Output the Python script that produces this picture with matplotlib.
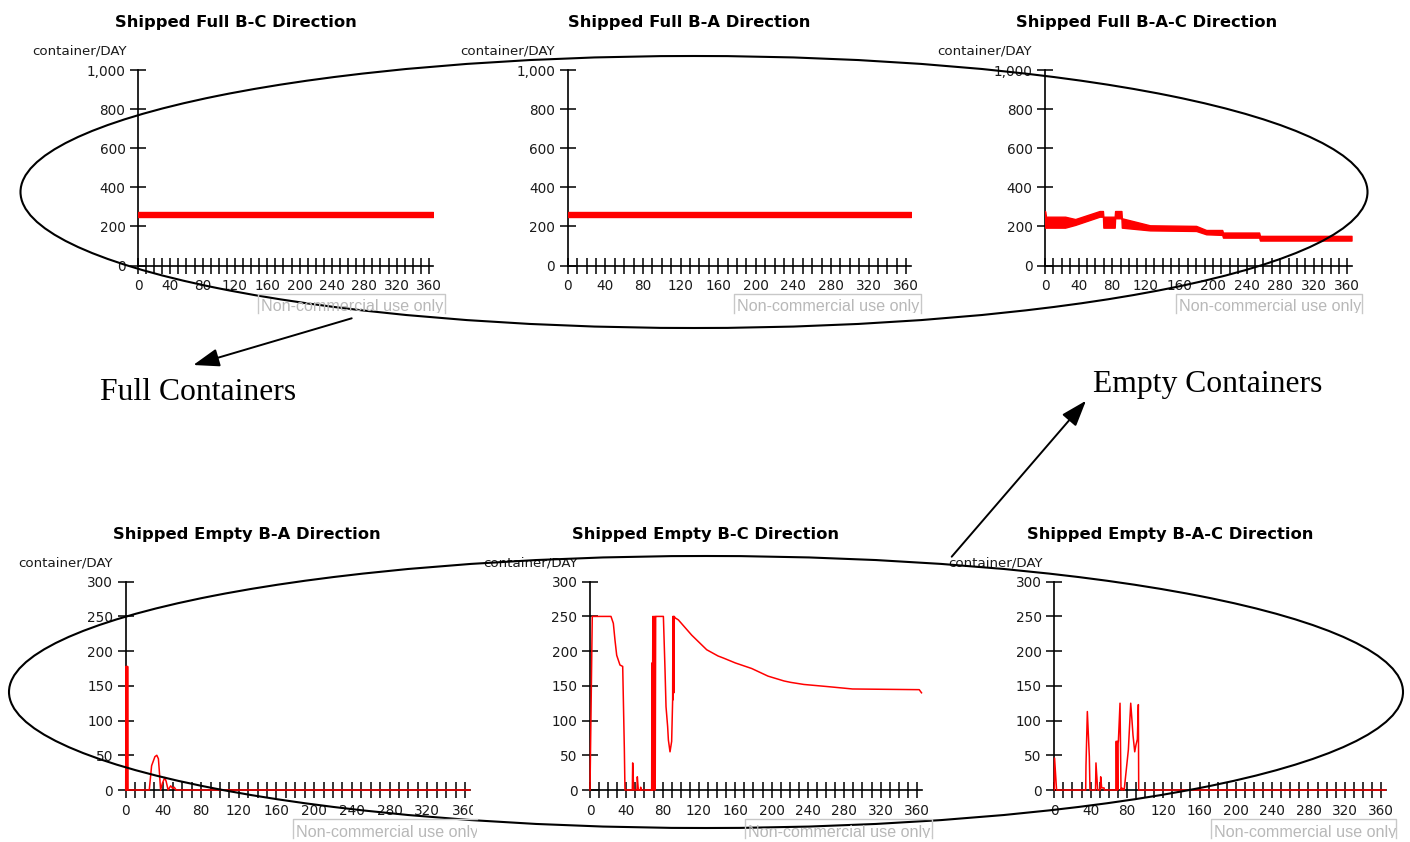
import matplotlib.pyplot as plt
from matplotlib.patches import Ellipse, Rectangle
from matplotlib.transforms import Bbox

W, H = 1410, 842

# ---------------- data ----------------
x_ticks = list(range(0, 361, 10))
x_labels = [str(t) if t % 40 == 0 else '' for t in x_ticks]
full_yticks = [0, 200, 400, 600, 800, 1000]
empty_yticks = [0, 50, 100, 150, 200, 250, 300]

# full containers: daily oscillation, kept as low / high edge of the band
full_bc_day = [0, 365]
full_bc_lo = [249, 249]
full_bc_hi = [272, 272]

full_ba_day = [0, 365]
full_ba_lo = [251, 251]
full_ba_hi = [274, 274]

full_bac_day = [0, 1, 24, 36, 65, 69, 69.5, 83, 83.5, 91, 91.5, 125, 180,
                192, 211, 212, 255, 256, 365]
full_bac_lo = [194, 194, 194, 208, 250, 250, 194, 194, 242, 242, 194, 180, 177,
               160, 157, 143, 143, 128, 128]
full_bac_hi = [279, 250, 250, 238, 279, 279, 250, 250, 279, 279, 242, 206, 203,
               182, 182, 169, 169, 152, 152]

# empty containers
empty_ba_day = [0, 0.4, 0.8, 1.2, 1.6, 2.0, 2.5, 25, 27.5, 31, 33, 34.7, 35.8,
                37, 39, 41.5, 43, 45, 47.7, 50, 51.5, 53.5, 365]
empty_ba_val = [0, 178, 0, 178, 0, 178, 0, 0, 35, 48, 50, 45, 25,
                0, 10, 18, 12, 0, 6, 2, 4, 0, 0]

empty_bc_day = [0, 2.5, 23.1, 25.7, 27.5, 29.4, 33.0, 36.0, 37.8, 38.5, 46.6,
                47.0, 48.1, 51.7, 52.1, 53.2, 55.5, 55.8, 56.3, 67.9, 68.2,
                68.5, 69.2, 69.5, 70.4, 70.7, 71.4, 71.8, 72.3, 73.4, 80.8,
                82.6, 83.7, 85.5, 86.3, 88.1, 89.9, 91.0, 91.3, 91.6, 92.0,
                92.4, 92.8, 93.6, 97.3, 112, 128.5, 141, 147, 160, 178, 196,
                213.7, 221, 235.5, 261, 289, 362.5, 365]
empty_bc_val = [0, 250, 250, 240, 216, 194, 180, 178, 60, 0, 0,
                39, 0, 0, 19, 0, 0, 4, 0, 0, 183,
                0, 250, 0, 250, 0, 250, 0, 250, 250, 250,
                173, 120, 91, 72, 55, 70, 130, 250, 130, 250,
                140, 250, 248, 245, 223, 202, 193, 190, 183, 175, 164,
                157, 155, 152, 149, 145.5, 144.5, 140]

empty_bac_day = [0, 0.3, 2.5, 34.6, 34.9, 36.4, 38.6, 39.3, 45.4, 45.9, 47.8,
                 50.6, 51.1, 52.2, 53.5, 54.8, 55.2, 67.8, 68.0, 68.6, 68.9,
                 69.4, 69.9, 70.2, 70.6, 72.4, 73.5, 74.5, 75, 76.4, 77,
                 81.6, 84.2, 85.6, 86.7, 88.6, 90.0, 91.5, 92.6, 93.0, 365]
empty_bac_val = [0, 46, 0, 0, 35, 113, 48, 0, 0, 39, 0,
                 0, 19, 3, 3, 3, 0, 0, 70, 70, 0,
                 70, 0, 70, 70, 125, 0, 3, 0, 2, 0,
                 58, 125, 100, 79, 55, 65, 73, 123, 0, 0]

RED = '#ff0000'
TXT = '#1a1a1a'

fig = plt.figure(figsize=(W / 100, H / 100), dpi=100)
fig.patch.set_facecolor('white')


def fx(x):
    return x / W


def fy(y):
    return 1 - y / H


def panel(left, right, top, bottom, ymax, yticks, fmt, title, tcx, tby, ulx, uby):
    ax = fig.add_axes([fx(left), fy(bottom), fx(right - left), (bottom - top) / H])
    ax.set_xlim(0, 365)
    ax.set_ylim(0, ymax)
    ax.patch.set_alpha(0)
    for s in ['top', 'right']:
        ax.spines[s].set_visible(False)
    for s in ['left', 'bottom']:
        ax.spines[s].set_linewidth(1.2)
        ax.spines[s].set_color('black')
    ax.set_xticks(x_ticks)
    ax.set_xticklabels(x_labels)
    ax.set_yticks(yticks)
    ax.set_yticklabels([fmt(v) for v in yticks])
    ax.tick_params(direction='inout', length=12, width=1.1, color='black',
                   labelsize=9.8, labelcolor=TXT)
    ax.tick_params(axis='x', pad=4)
    ax.tick_params(axis='y', pad=3)
    fig.text(fx(tcx), fy(tby), title, ha='center', va='baseline',
             fontsize=11.8, fontweight='bold', color='black')
    fig.text(fx(ulx), fy(uby), 'container/DAY', ha='left', va='baseline',
             fontsize=9.6, color=TXT)
    return ax


def full_fmt(v):
    return f'{v:,}'


def plain_fmt(v):
    return str(v)


ax1 = panel(138, 433, 70, 265.6, 1000, full_yticks, full_fmt,
            'Shipped Full B-C Direction', 236, 27, 32, 55)
ax1.fill_between(full_bc_day, full_bc_lo, full_bc_hi, color=RED, lw=1, zorder=3)

ax2 = panel(567.7, 911, 70, 265.6, 1000, full_yticks, full_fmt,
            'Shipped Full B-A Direction', 689, 27, 460, 55)
ax2.fill_between(full_ba_day, full_ba_lo, full_ba_hi, color=RED, lw=1, zorder=3)

ax3 = panel(1045, 1351.5, 70, 265.6, 1000, full_yticks, full_fmt,
            'Shipped Full B-A-C Direction', 1147, 27, 937, 55)
ax3.fill_between(full_bac_day, full_bac_lo, full_bac_hi, color=RED, lw=1, zorder=3)

ax4 = panel(125.7, 469.7, 581.7, 790, 300, empty_yticks, plain_fmt,
            'Shipped Empty B-A Direction', 246.7, 539, 18, 567)
ax4.plot(empty_ba_day, empty_ba_val, color=RED, lw=1.1, zorder=3, clip_on=False)

ax5 = panel(590, 921.5, 581.7, 790, 300, empty_yticks, plain_fmt,
            'Shipped Empty B-C Direction', 705.8, 539, 483, 567)
ax5.plot(empty_bc_day, empty_bc_val, color=RED, lw=1.1, zorder=3, clip_on=False)

ax6 = panel(1054.3, 1385.6, 581.7, 790, 300, empty_yticks, plain_fmt,
            'Shipped Empty B-A-C Direction', 1170, 539, 948, 567)
ax6.plot(empty_bac_day, empty_bac_val, color=RED, lw=1.1, zorder=3, clip_on=False)

# the cropped "360" of the lower-left panel
fig.patches.append(Rectangle((fx(473), fy(820)), fx(9), 22 / H, transform=fig.transFigure,
                             facecolor='white', edgecolor='none', zorder=1))

# ---------------- overlay: ellipses, arrows, captions, watermarks ----------------
ov = fig.add_axes([0, 0, 1, 1], zorder=5)
ov.set_xlim(0, W)
ov.set_ylim(H, 0)
ov.axis('off')
ov.patch.set_alpha(0)

ov.add_patch(Ellipse((694, 192), 1347, 272, fill=False, lw=1.5, ec='black'))
ov.add_patch(Ellipse((706, 692), 1394, 272, fill=False, lw=1.5, ec='black'))

arrow = dict(arrowstyle='-|>,head_length=0.8,head_width=0.28', color='black',
             lw=1.4, mutation_scale=20, shrinkA=0, shrinkB=0)
ov.annotate('', xy=(193.3, 365), xytext=(351.7, 318.3), arrowprops=arrow)
ov.annotate('', xy=(1086, 400.7), xytext=(951.7, 556.7), arrowprops=arrow)

ov.text(100, 400, 'Full Containers', family='Liberation Serif', fontsize=22.8,
        ha='left', va='baseline', color='black')
ov.text(1093, 392, 'Empty Containers', family='Liberation Serif', fontsize=22.8,
        ha='left', va='baseline', color='black')

marks = [(258, 445, 294, True), (734, 921, 294, True), (1176, 1362, 294, True),
         (293, 477, 819, False), (745, 932, 819, True), (1211, 1396, 819, True)]
for x0, x1, y0, right_edge in marks:
    y1 = y0 + 19
    xs = [x0, x0, x1, x1] if right_edge else [x0, x0, x1]
    ys = [y1, y0, y0, y1] if right_edge else [y1, y0, y0]
    ov.plot(xs, ys, color='#c8c8c8', lw=1)
    t = ov.text(x0 + 3, y0 + 17.5, 'Non-commercial use only!', family='Liberation Sans',
                fontsize=11.6, color='#b8b8b8', ha='left', va='baseline')
    # clip box in display pixels (figure saved at its own dpi)
    t.set_clip_on(True)
    t.set_clip_box(Bbox.from_extents(x0, H - y1, x1, H - y0))

fig.savefig('out.png', dpi=100)
